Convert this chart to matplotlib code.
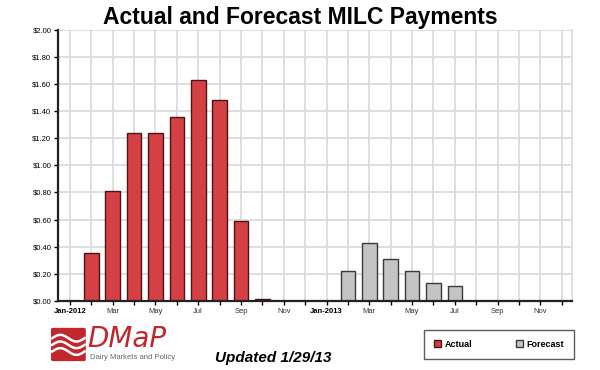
import numpy as np
import matplotlib.pyplot as plt
from matplotlib.patches import FancyBboxPatch

# monthly MILC payments ($/cwt), Jan-2012 .. Dec-2013
months = ['Jan-2012', 'Feb', 'Mar', 'Apr', 'May', 'Jun', 'Jul', 'Aug', 'Sep', 'Oct', 'Nov', 'Dec',
          'Jan-2013', 'Feb', 'Mar', 'Apr', 'May', 'Jun', 'Jul', 'Aug', 'Sep', 'Oct', 'Nov', 'Dec']
actual = [0, 0.35, 0.81, 1.24, 1.24, 1.36, 1.63, 1.48, 0.59, 0.015, 0, 0,
          0, 0, 0, 0, 0, 0, 0, 0, 0, 0, 0, 0]
forecast = [0, 0, 0, 0, 0, 0, 0, 0, 0, 0, 0, 0,
            0, 0.22, 0.43, 0.31, 0.22, 0.13, 0.11, 0, 0, 0, 0, 0]
yticks = np.arange(0, 2.01, 0.2)

fig = plt.figure(figsize=(6, 3.7), dpi=100)
ax = fig.add_axes([0.097, 0.187, 0.857, 0.732])

x = np.arange(len(months))
ax.bar(x, actual, width=0.68, color='#d44044', edgecolor='#4a1515', linewidth=1.0, label='Actual')
ax.bar(x, forecast, width=0.68, color='#c4c4c4', edgecolor='#3a3a3a', linewidth=1.0, label='Forecast')

ax.set_xlim(-0.55, 23.5)
ax.set_ylim(0, 2.0)
ax.set_yticks(yticks)
ax.set_yticklabels(['${:.2f}'.format(v) for v in yticks], fontsize=5.5, family='Liberation Sans')
ax.set_xticks(x)
ax.set_xticklabels([m if i % 2 == 0 else '' for i, m in enumerate(months)],
                   fontsize=5.5, family='Liberation Sans', color='#333333')
for i in (0, 12):
    ax.get_xticklabels()[i].set_fontweight('bold')
    ax.get_xticklabels()[i].set_color('black')
ax.tick_params(axis='both', length=3, width=1, pad=2)

ax.set_axisbelow(True)
ax.grid(True, color='#dcdcdc', linewidth=1.3)
ax.spines['top'].set_visible(False)
ax.spines['right'].set_color('#dcdcdc')
ax.spines['right'].set_linewidth(1.3)
for s in ('left', 'bottom'):
    ax.spines[s].set_linewidth(1.6)
    ax.spines[s].set_color('#222222')

fig.text(0.5, 0.952, 'Actual and Forecast MILC Payments', ha='center', va='center',
         fontsize=16.5, fontweight='bold', family='Liberation Sans')

leg = fig.legend(loc='center', bbox_to_anchor=(0.832, 0.07),
                 ncol=2, prop={'family': 'Liberation Sans', 'weight': 'bold', 'size': 6.5},
                 frameon=True, fancybox=False, handlelength=0.8, handleheight=0.8,
                 columnspacing=4.8, handletextpad=0.4, borderpad=1.1)
leg.get_frame().set_edgecolor('#333333')
leg.get_frame().set_linewidth(1.0)

# DMaP logo (approximation)
logo = FancyBboxPatch((0.089, 0.028), 0.05, 0.082, boxstyle='round,pad=0.004',
                      transform=fig.transFigure, facecolor='#c1272d', edgecolor='none')
fig.patches.append(logo)
t = np.linspace(0, 1, 50)
for yb in (0.050, 0.068, 0.086):
    fig.lines.append(plt.Line2D(0.087 + 0.054 * t, yb + 0.009 * np.sin(2 * np.pi * t),
                                transform=fig.transFigure, color='white', linewidth=1.8))
fig.text(0.145, 0.083, 'DMaP', fontsize=20, style='italic', color='#c1272d',
         family='DejaVu Sans', va='center')
fig.text(0.15, 0.035, 'Dairy Markets and Policy', fontsize=5.5, color='#666666',
         family='Liberation Sans', va='center')
fig.text(0.358, 0.033, 'Updated 1/29/13', fontsize=11, style='italic', fontweight='bold',
         family='Liberation Sans', va='center')

fig.savefig('out.png', dpi=100)
